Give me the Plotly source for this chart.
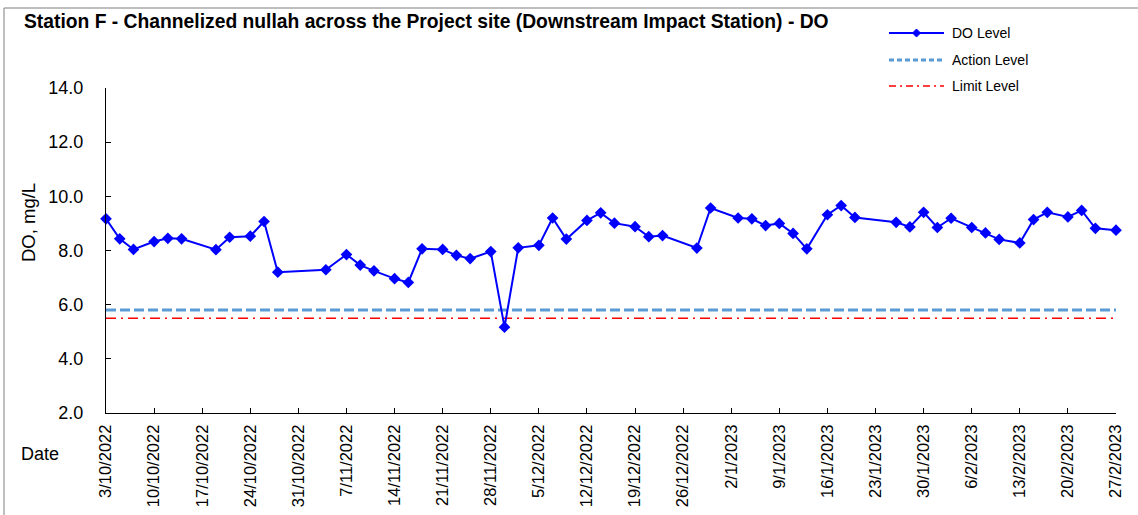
import plotly.graph_objects as go

# Sampling dates and dissolved-oxygen readings (mg/L)
sample_dates = [
    "2022-10-03", "2022-10-05", "2022-10-07", "2022-10-10", "2022-10-12", "2022-10-14",
    "2022-10-19", "2022-10-21", "2022-10-24", "2022-10-26", "2022-10-28",
    "2022-11-04", "2022-11-07", "2022-11-09", "2022-11-11", "2022-11-14", "2022-11-16",
    "2022-11-18", "2022-11-21", "2022-11-23", "2022-11-25", "2022-11-28", "2022-11-30",
    "2022-12-02", "2022-12-05", "2022-12-07", "2022-12-09", "2022-12-12", "2022-12-14",
    "2022-12-16", "2022-12-19", "2022-12-21", "2022-12-23", "2022-12-28", "2022-12-30",
    "2023-01-03", "2023-01-05", "2023-01-07", "2023-01-09", "2023-01-11", "2023-01-13",
    "2023-01-16", "2023-01-18", "2023-01-20", "2023-01-26", "2023-01-28", "2023-01-30",
    "2023-02-01", "2023-02-03", "2023-02-06", "2023-02-08", "2023-02-10", "2023-02-13",
    "2023-02-15", "2023-02-17", "2023-02-20", "2023-02-22", "2023-02-24", "2023-02-27",
]
do_level = [
    9.17, 8.43, 8.04, 8.33, 8.45, 8.43, 8.03, 8.49, 8.53, 9.07, 7.20,
    7.29, 7.85, 7.46, 7.25, 6.96, 6.82, 8.06, 8.04, 7.82, 7.70, 7.96, 5.17,
    8.10, 8.19, 9.20, 8.42, 9.11, 9.39, 9.01, 8.88, 8.51, 8.55, 8.09, 9.57,
    9.20, 9.17, 8.92, 9.00, 8.63, 8.06, 9.32, 9.66, 9.22, 9.04, 8.87, 9.41,
    8.85, 9.19, 8.85, 8.65, 8.41, 8.28, 9.14, 9.41, 9.24, 9.48, 8.82, 8.75,
]
action_level = 5.8
limit_level = 5.5
period = ["2022-10-03", "2023-02-27"]

series_names = ["DO Level", "Action Level", "Limit Level"]
title_text = "Station F - Channelized nullah across the Project site (Downstream Impact Station) - DO"
y_title = "DO, mg/L"
x_title = "Date"

FONT = "Liberation Sans, Arial, sans-serif"
W_PX, H_PX = 1138, 515
L, R, T, B = 106, 1116, 88, 413   # plot-area edges in pixels


def fx(x):
    return (x - L) / (R - L)


def fy(y):
    return (B - y) / (B - T)


BLUE = "#0000FF"
LIGHT_BLUE = "#5B9BD5"
RED = "#FF0000"
ACTION_DASH = "10px,4px"
LIMIT_DASH = "10px,5px,2px,5px"

fig = go.Figure()

fig.add_trace(go.Scatter(
    x=period, y=[action_level, action_level], mode="lines",
    line=dict(color=LIGHT_BLUE, width=3, dash=ACTION_DASH),
    name=series_names[1], showlegend=False, hoverinfo="skip",
))
fig.add_trace(go.Scatter(
    x=period, y=[limit_level, limit_level], mode="lines",
    line=dict(color=RED, width=1.5, dash=LIMIT_DASH),
    name=series_names[2], showlegend=False, hoverinfo="skip",
))
fig.add_trace(go.Scatter(
    x=sample_dates, y=do_level, mode="lines+markers",
    line=dict(color=BLUE, width=2),
    marker=dict(symbol="diamond", size=9, color=BLUE),
    name=series_names[0], showlegend=False, cliponaxis=False,
))

shapes = []
annotations = []

# outer frame
shapes.append(dict(type="rect", xref="paper", yref="paper",
                   x0=fx(4), x1=fx(1150), y0=fy(530), y1=fy(8),
                   line=dict(color="#7f7f7f", width=1), fillcolor="rgba(0,0,0,0)",
                   layer="below"))

# legend block
leg_x0, leg_x1, leg_tx = 889, 944, 950
leg_rows = [33, 60, 86]
leg_styles = [
    dict(color=BLUE, width=2, dash="solid"),
    dict(color=LIGHT_BLUE, width=3, dash="5px,3px"),
    dict(color=RED, width=1.5, dash="7px,4px,2px,4px"),
]
for name, yrow, st in zip(series_names, leg_rows, leg_styles):
    shapes.append(dict(type="line", xref="paper", yref="paper",
                       x0=fx(leg_x0), x1=fx(leg_x1), y0=fy(yrow), y1=fy(yrow),
                       line=st))
    annotations.append(dict(text=name, xref="paper", yref="paper",
                            x=fx(leg_tx), y=fy(yrow), xanchor="left", yanchor="middle",
                            showarrow=False, font=dict(family=FONT, size=14, color="#000")))
# diamond on the DO legend sample
cx, cy, d = (leg_x0 + leg_x1) / 2, leg_rows[0], 4
shapes.append(dict(type="path", xref="paper", yref="paper",
                   path=f"M{fx(cx - d)},{fy(cy)} L{fx(cx)},{fy(cy - d)} L{fx(cx + d)},{fy(cy)} L{fx(cx)},{fy(cy + d)} Z",
                   fillcolor=BLUE, line=dict(color=BLUE, width=1)))

annotations.append(dict(text=f"<b>{title_text}</b>", xref="paper", yref="paper",
                        x=fx(22), y=fy(22), xanchor="left", yanchor="middle",
                        showarrow=False, font=dict(family=FONT, size=19.3, color="#000")))
annotations.append(dict(text=y_title, xref="paper", yref="paper",
                        x=fx(28), y=fy(223), xanchor="center", yanchor="middle",
                        textangle=-90, showarrow=False,
                        font=dict(family=FONT, size=18.5, color="#000")))
annotations.append(dict(text=x_title, xref="paper", yref="paper",
                        x=fx(40), y=fy(454), xanchor="center", yanchor="middle",
                        showarrow=False, font=dict(family=FONT, size=18, color="#000")))

fig.update_layout(
    width=W_PX, height=H_PX,
    margin=dict(l=L, r=W_PX - R, t=T, b=H_PX - B, pad=0, autoexpand=False),
    paper_bgcolor="white", plot_bgcolor="white",
    font=dict(family=FONT, color="#000"),
    showlegend=False,
    shapes=shapes, annotations=annotations,
)
fig.update_xaxes(
    type="date", range=period, tick0=period[0], dtick=7 * 24 * 3600 * 1000,
    tickformat="%-d/%-m/%Y", tickangle=-90,
    tickfont=dict(family=FONT, size=16.5, color="#000"),
    ticks="inside", ticklen=5, tickcolor="#000",
    showline=True, linecolor="#000", linewidth=1,
    showgrid=False, zeroline=False, ticklabelstandoff=4, automargin=False,
)
fig.update_yaxes(
    range=[2, 14], dtick=2, tickformat=".1f",
    tickfont=dict(family=FONT, size=18, color="#000"),
    ticks="inside", ticklen=5, tickcolor="#000",
    showline=True, linecolor="#000", linewidth=1,
    showgrid=False, zeroline=False, ticklabelstandoff=18, automargin=False,
)

fig.write_html("out.html")
